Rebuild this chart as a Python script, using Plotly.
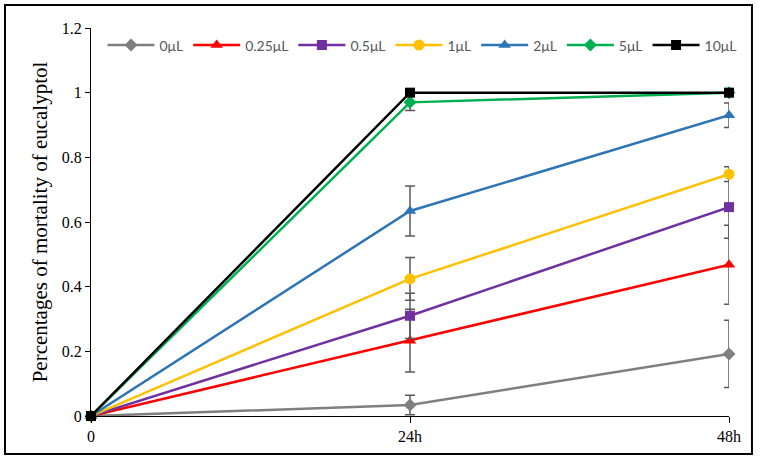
import plotly.graph_objects as go

x_labels = ["0", "24h", "48h"]
x_pos = [0, 1, 2]

series_names = ["0μL", "0.25μL", "0.5μL", "1μL", "2μL", "5μL", "10μL"]
v_0 = [0, 0.034, 0.192]
v_025 = [0, 0.233, 0.468]
v_05 = [0, 0.31, 0.646]
v_1 = [0, 0.424, 0.748]
v_2 = [0, 0.634, 0.93]
v_5 = [0, 0.97, 1.0]
v_10 = [0, 1.0, 1.0]

e_0 = [0, 0.03, 0.104]
e_025 = [0, 0.097, 0.122]
e_05 = [0, 0.07, 0.096]
e_1 = [0, 0.066, 0.023]
e_2 = [0, 0.077, 0.038]
e_5 = [0, 0.025, 0]
e_10 = [0, 0, 0]

values = [v_0, v_025, v_05, v_1, v_2, v_5, v_10]
errors = [e_0, e_025, e_05, e_1, e_2, e_5, e_10]
colors = ["#7F7F7F", "#FF0000", "#7030A0", "#FFC000", "#2E75B6", "#00B050", "#000000"]
symbols = ["diamond", "triangle-up", "square", "circle", "triangle-up", "diamond", "square"]
sizes = [10, 11, 10, 11, 11, 10, 10]

fig = go.Figure()
for name, v, e, c, s, sz in zip(series_names, values, errors, colors, symbols, sizes):
    fig.add_trace(go.Scatter(
        x=x_pos, y=v, name=name, mode="lines+markers",
        line=dict(color=c, width=2.5),
        marker=dict(color=c, symbol=s, size=sz),
        error_y=dict(type="data", array=e, visible=True, color="#595959", thickness=1.5, width=5),
        cliponaxis=False,
    ))

fig.update_layout(
    width=762, height=461,
    margin=dict(l=91, r=33, t=28, b=45),
    paper_bgcolor="white", plot_bgcolor="white",
    showlegend=True,
    legend=dict(orientation="h", x=0.018, y=0.955, xanchor="left", yanchor="middle",
                font=dict(family="Lato, Noto Sans, sans-serif", size=14, color="#595959"),
                bgcolor="rgba(0,0,0,0)", itemwidth=47, tracegroupgap=0),
    xaxis=dict(range=[0, 2], tickvals=x_pos, ticktext=x_labels,
               showline=True, linecolor="black", linewidth=1, showgrid=False, zeroline=False,
               ticks="outside", ticklen=6, tickcolor="black",
               tickfont=dict(family="Liberation Serif, Times New Roman, serif", size=16, color="black")),
    yaxis=dict(range=[0, 1.2], dtick=0.2, tickformat="~g",
               showline=True, linecolor="black", linewidth=1, showgrid=False, zeroline=False,
               ticks="outside", ticklen=5, tickcolor="black",
               tickfont=dict(family="Liberation Serif, Times New Roman, serif", size=16, color="black"),
               title=dict(text="Percentages of mortality of eucalyptol", standoff=8,
                          font=dict(family="Liberation Serif, Times New Roman, serif", size=21, color="black"))),
)

fig.add_shape(type="rect", xref="paper", yref="paper",
              x0=-0.1348, x1=1.036, y0=-0.098, y1=1.059,
              line=dict(color="black", width=2), fillcolor="rgba(0,0,0,0)", layer="above")

fig.write_html("out.html", config={"displayModeBar": False},
               post_script="document.body.style.margin='0';document.body.style.padding='0';")
